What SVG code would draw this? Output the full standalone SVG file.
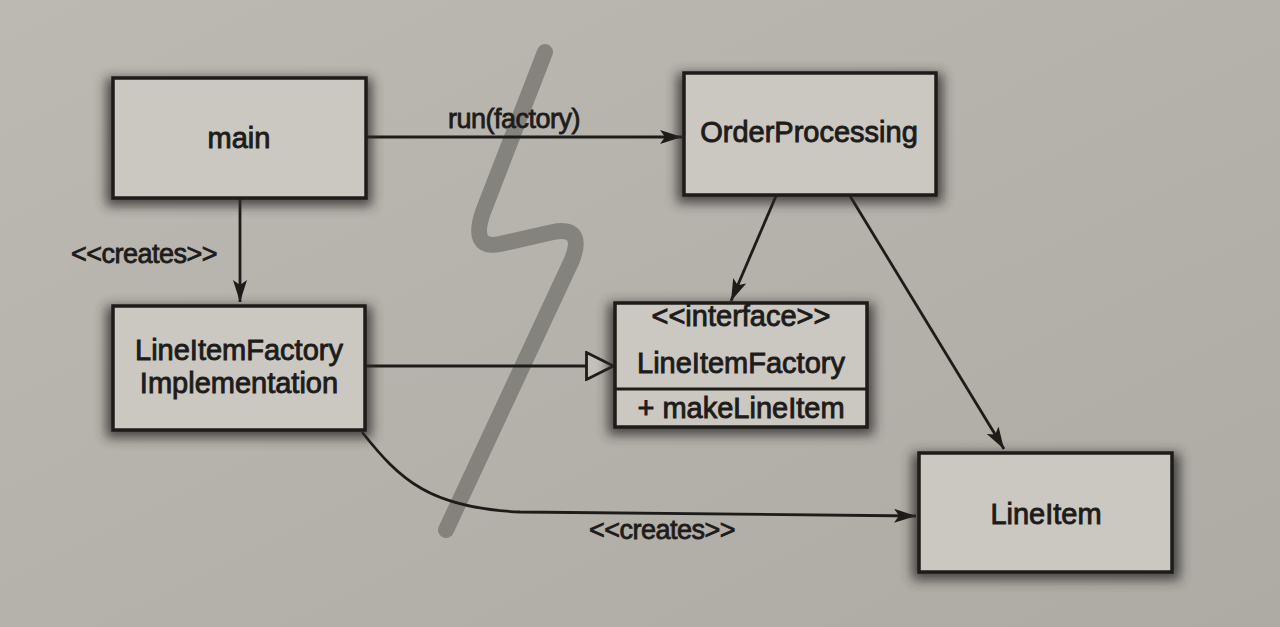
<svg xmlns="http://www.w3.org/2000/svg" width="1280" height="627" viewBox="0 0 1280 627">
<defs>
<filter id="sh" x="-20%" y="-30%" width="140%" height="160%">
<feGaussianBlur stdDeviation="6"/>
</filter>
<marker id="arr" viewBox="0 0 22 14" refX="22" refY="7" markerWidth="22" markerHeight="14" markerUnits="userSpaceOnUse" orient="auto">
<path d="M0,0 L22,7 L0,14 L5,7 Z" fill="#1e1c1a"/>
</marker>
<marker id="tri" viewBox="0 0 30 30" refX="29" refY="15" markerWidth="30" markerHeight="30" markerUnits="userSpaceOnUse" orient="auto">
<path d="M1.5,1.5 L28.5,15 L1.5,28.5 Z" fill="#c4c1ba" stroke="#1e1c1a" stroke-width="2.8"/>
</marker>
<linearGradient id="bg" x1="0" y1="0" x2="1" y2="1">
<stop offset="0" stop-color="#bcb9b2"/>
<stop offset="1" stop-color="#aeaba4"/>
</linearGradient>
</defs>
<style>
.box{fill:#cbc8c1;stroke:#1e1c1a;stroke-width:3.5}
.shadow{fill:#2e2c2a;opacity:0.8;filter:url(#sh)}
.t{font-family:"Liberation Sans",Arial,sans-serif;font-size:29px;fill:#1e1c1a;stroke:#1e1c1a;stroke-width:0.9;text-anchor:middle}
.lbl{font-family:"Liberation Sans",Arial,sans-serif;font-size:27px;fill:#1e1c1a;stroke:#1e1c1a;stroke-width:0.8;text-anchor:middle;letter-spacing:-0.5px}
.c{fill:none;stroke:#1e1c1a;stroke-width:2.8}
</style>
<rect width="1280" height="627" fill="url(#bg)"/>

<path d="M545,52 L483,212 Q470,250 500,244 L553,232 Q585,226 572,260 L446,530" fill="none" stroke="#7c7a76" stroke-width="16" stroke-linecap="round" stroke-linejoin="round" opacity="0.85"/>

<g id="connectors">
<line class="c" x1="366" y1="137" x2="682" y2="137" marker-end="url(#arr)"/>
<text class="lbl" x="514" y="128">run(factory)</text>
<line class="c" x1="240" y1="198" x2="240" y2="302" marker-end="url(#arr)"/>
<text class="lbl" x="144" y="263">&lt;&lt;creates&gt;&gt;</text>
<line class="c" x1="365" y1="366" x2="614" y2="366" marker-end="url(#tri)"/>
<line class="c" x1="776" y1="196" x2="731" y2="301" marker-end="url(#arr)"/>
<line class="c" x1="850" y1="196" x2="1004" y2="449" marker-end="url(#arr)"/>
<path class="c" d="M362,432 C400,480 430,508 520,512 L916,516" marker-end="url(#arr)"/>
<text class="lbl" x="662" y="539">&lt;&lt;creates&gt;&gt;</text>
</g>

<g id="main">
<rect class="shadow" x="106" y="78" width="266" height="128"/>
<rect class="box" x="113" y="78" width="253" height="120"/>
<text class="t" x="239" y="148">main</text>
</g>

<g id="orderProcessing">
<rect class="shadow" x="677" y="73" width="266" height="130"/>
<rect class="box" x="684" y="73" width="252" height="122"/>
<text class="t" x="809" y="142">OrderProcessing</text>
</g>

<g id="lineItemFactoryImpl">
<rect class="shadow" x="106" y="306" width="266" height="132"/>
<rect class="box" x="113" y="306" width="252" height="124"/>
<text class="t" x="239" y="360">LineItemFactory</text>
<text class="t" x="239" y="393">Implementation</text>
</g>

<g id="lineItemFactory">
<rect class="shadow" x="608" y="303" width="266" height="132"/>
<rect class="box" x="615" y="303" width="252" height="124"/>
<line x1="615" y1="389" x2="867" y2="389" stroke="#1e1c1a" stroke-width="3"/>
<text class="t" x="741" y="326">&lt;&lt;interface&gt;&gt;</text>
<text class="t" x="741" y="373">LineItemFactory</text>
<text class="t" x="741" y="418">+ makeLineItem</text>
</g>

<g id="lineItem">
<rect class="shadow" x="912" y="453" width="268" height="127"/>
<rect class="box" x="919" y="453" width="253" height="119"/>
<text class="t" x="1046" y="524">LineItem</text>
</g>
</svg>
